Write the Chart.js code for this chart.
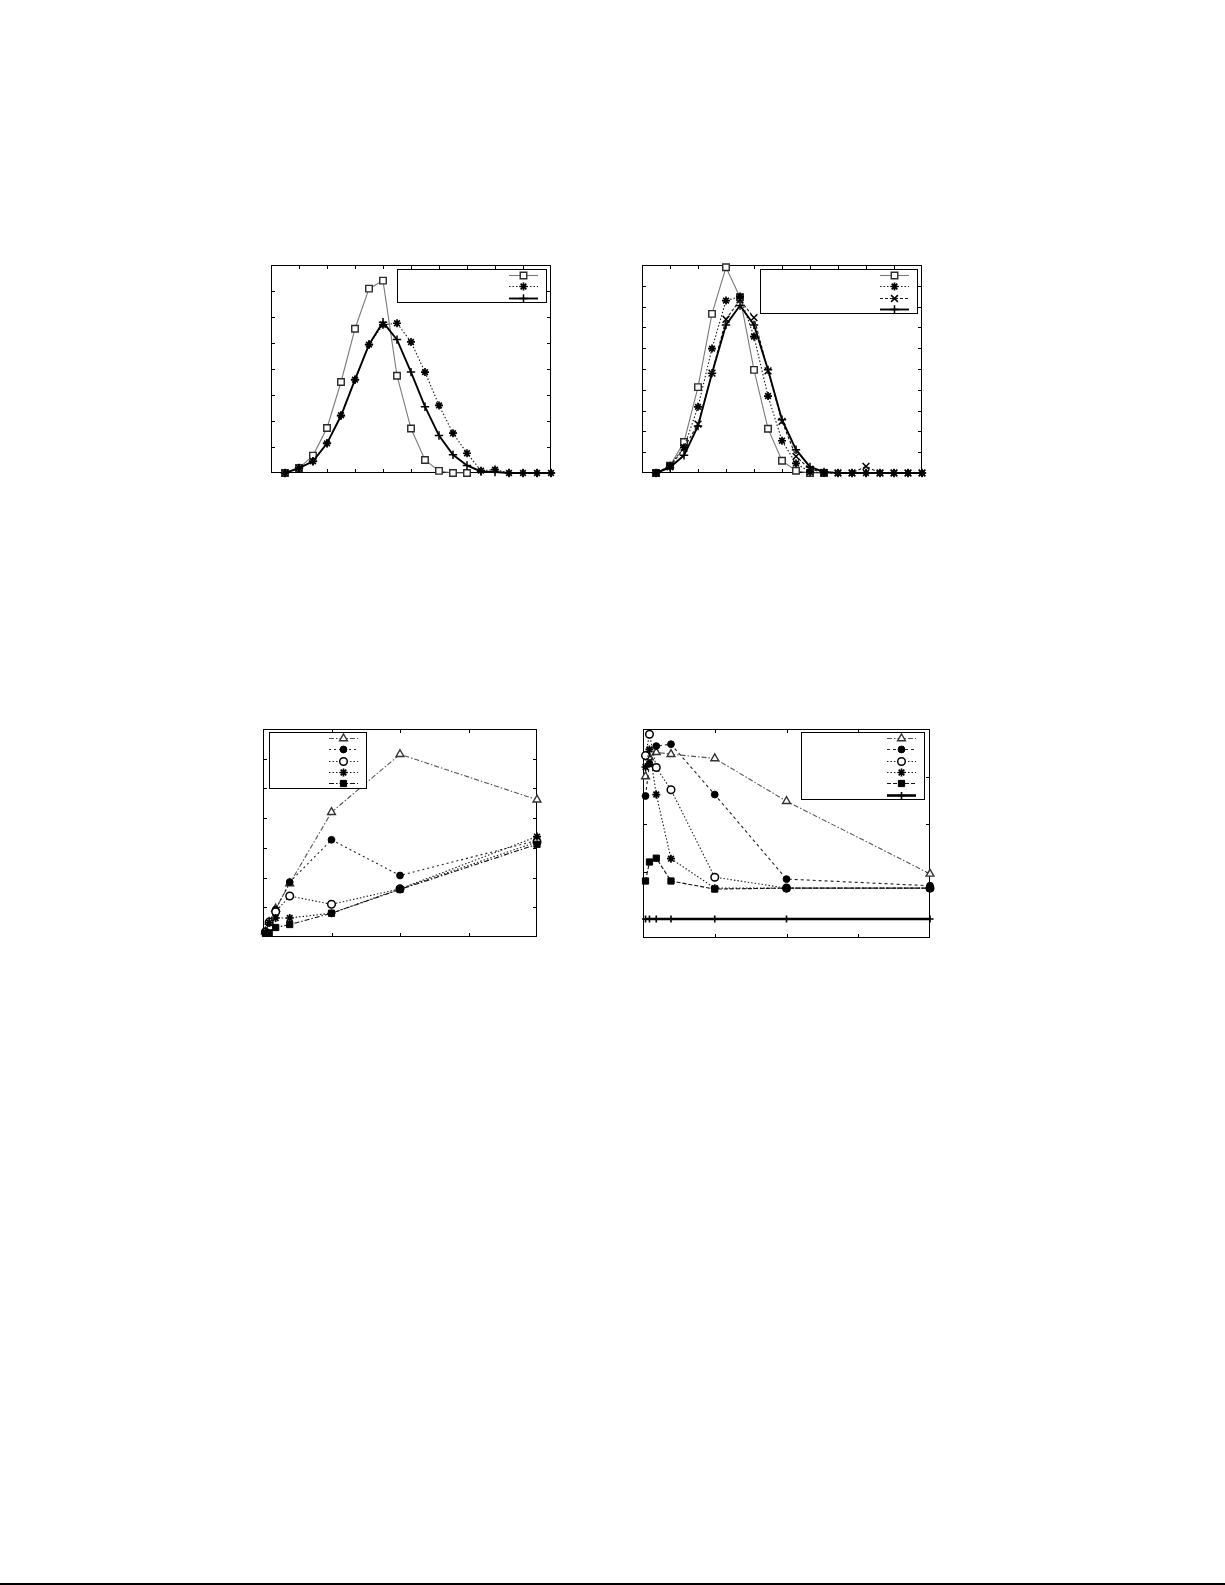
<!DOCTYPE html>
<html>
<head>
<meta charset="utf-8">
<script src="https://cdn.jsdelivr.net/npm/chart.js@4.4.1/dist/chart.umd.min.js"></script>
<style>
  body { margin: 0; background: #fff; width: 1225px; height: 1585px; position: relative; overflow: hidden; }
  canvas { position: absolute; }
  #rule { position: absolute; left: 0; top: 1583px; width: 1225px; height: 2px; background: #000; }
</style>
</head>
<body>
<canvas id="c1" width="304" height="232" style="left:259px;top:253px"></canvas>
<canvas id="c2" width="304" height="232" style="left:630px;top:253px"></canvas>
<canvas id="c3" width="298" height="232" style="left:251px;top:717px"></canvas>
<canvas id="c4" width="311" height="233" style="left:631px;top:717px"></canvas>
<div id="rule"></div>
<script>
// --- DATE ---
const xs20 = [1, 2, 3, 4, 5, 6, 7, 8, 9, 10, 11, 12, 13, 14, 15, 16, 17, 18, 19, 20];
const xs7 = [0.07, 0.18, 0.37, 0.78, 2, 4, 8];

// grafic 1 (stanga sus)
const sq1 = [0, 0.19, 0.67, 1.73, 3.5, 5.55, 7.09, 7.4, 3.74, 1.71, 0.5, 0.08, 0, 0, null, null, null, null, null, null];
const st1 = [0, 0.19, 0.45, 1.14, 2.22, 3.59, 4.94, 5.7, 5.76, 5.04, 3.88, 2.6, 1.53, 0.76, 0.09, 0.13, 0, 0, 0, 0];
const pl1 = [0, 0.19, 0.45, 1.14, 2.2, 3.59, 4.94, 5.8, 5.13, 3.88, 2.55, 1.44, 0.7, 0.29, 0.06, 0.04, 0, 0, 0, 0];

// grafic 2 (dreapta sus)
const sq2 = [0, 0.35, 1.49, 4.13, 7.65, 9.89, 8.45, 4.96, 2.13, 0.59, 0.11, 0, 0, null, null, null, null, null, null, null];
const st2 = [0, 0.35, 1.23, 3.18, 5.98, 8.29, 8.48, 6.56, 3.7, 1.55, 0.46, 0.05, 0, 0, 0, 0, 0, 0, 0, 0];
const xx2 = [0, 0.3, 1.2, 2.35, 4.8, 7.39, 8.32, 7.47, 4.91, 2.48, 0.8, 0.18, 0.03, 0, 0, 0.32, 0, 0, 0, 0];
const pl2 = [0, 0.27, 0.85, 2.26, 4.8, 7.12, 8.05, 7.12, 4.96, 2.56, 1.12, 0.29, 0.05, 0, 0, 0, 0, 0, 0, 0];

// grafic 3 (stanga jos)
const tri3 = [0.18, 0.5, 0.95, 1.8, 4.2, 6.15, 4.62];
const dot3 = [0.18, 0.5, 0.92, 1.85, 3.27, 2.07, 3.25];
const ring3 = [0.17, 0.5, 0.85, 1.38, 1.1, 1.62, 3.2];
const star3 = [0.15, 0.48, 0.64, 0.64, 0.8, 1.62, 3.38];
const sqr3 = [0.12, 0.14, 0.32, 0.42, 0.8, 1.6, 3.12];

// grafic 4 (dreapta jos)
const tri4 = [3.0, 3.4, 3.51, 3.47, 3.38, 2.48, 0.95];
const dot4 = [2.59, 3.27, 3.64, 3.68, 2.62, 0.84, 0.7];
const ring4 = [3.44, 3.89, 3.19, 2.72, 0.88, 0.65, 0.65];
const star4 = [3.2, 3.57, 2.62, 1.27, 0.65, 0.65, 0.65];
const sqr4 = [0.8, 1.2, 1.28, 0.8, 0.63, 0.65, 0.65];
const base4 = [0, 0, 0, 0, 0, 0, 0];

// ticks (fara etichete)
const xTicks12 = [2, 4, 6, 8, 10, 12, 14, 16, 18];
const yTicks1 = [1, 2, 3, 4, 5, 6, 7];
const yTicks2 = [1, 2, 3, 4, 5, 6, 7, 8, 9];
const xTicks34 = [2, 4, 6];
const yTicks3 = [1, 2, 3, 4, 5, 6];
const yTicks4 = [0, 1, 2, 3];

// --- STILURI SERII ---
const GRAY_LINE = '#7a7a7a';
const styles = {
  square:  { borderColor: GRAY_LINE, borderWidth: 1.1, borderDash: [], pointStyle: 'rect', pointRadius: 4.6, pointBorderWidth: 1.4, pointBorderColor: '#2a2a2a', pointBackgroundColor: '#fff' },
  starDot: { borderColor: '#1a1a1a', borderWidth: 1.1, borderDash: [1.5, 2], pointStyle: 'star', pointRadius: 4, pointBorderWidth: 1.7, pointBorderColor: '#000', pointBackgroundColor: '#000' },
  xDash:   { borderColor: '#1a1a1a', borderWidth: 1.1, borderDash: [3, 2], pointStyle: 'crossRot', pointRadius: 4.8, pointBorderWidth: 1.5, pointBorderColor: '#000', pointBackgroundColor: '#000' },
  plus:    { borderColor: '#000', borderWidth: 1.9, borderDash: [], pointStyle: 'cross', pointRadius: 4.2, pointBorderWidth: 1.5, pointBorderColor: '#000', pointBackgroundColor: '#000' },
  tri:     { borderColor: '#555', borderWidth: 1.1, borderDash: [5, 2, 1.5, 2], pointStyle: 'triangle', pointRadius: 4.5, pointBorderWidth: 1.4, pointBorderColor: '#333', pointBackgroundColor: '#fff' },
  dotFill: { borderColor: '#222', borderWidth: 1.1, borderDash: [2, 3], pointStyle: 'circle', pointRadius: 3.4, pointBorderWidth: 1, pointBorderColor: '#000', pointBackgroundColor: '#000' },
  dotDash: { borderColor: '#222', borderWidth: 1.1, borderDash: [3, 3], pointStyle: 'circle', pointRadius: 3.4, pointBorderWidth: 1, pointBorderColor: '#000', pointBackgroundColor: '#000' },
  ring:    { borderColor: '#222', borderWidth: 1.1, borderDash: [1.5, 2], pointStyle: 'circle', pointRadius: 3.8, pointBorderWidth: 1.5, pointBorderColor: '#000', pointBackgroundColor: '#fff' },
  sqFill:  { borderColor: '#111', borderWidth: 1.1, borderDash: [5, 2, 1.5, 2], pointStyle: 'rect', pointRadius: 4.4, pointBorderWidth: 1, pointBorderColor: '#000', pointBackgroundColor: '#000' },
  sqDash:  { borderColor: '#111', borderWidth: 1.1, borderDash: [4, 2], pointStyle: 'rect', pointRadius: 4.4, pointBorderWidth: 1, pointBorderColor: '#000', pointBackgroundColor: '#000' },
  base:    { borderColor: '#000', borderWidth: 2.6, borderDash: [], pointStyle: 'cross', pointRadius: 3.6, pointBorderWidth: 1.6, pointBorderColor: '#000', pointBackgroundColor: '#000' }
};

function series(xs, ys, style, idx) {
  return Object.assign({
    data: xs.map((x, i) => ({ x: x, y: ys[i] })),
    fill: false, tension: 0, clip: false, spanGaps: false,
    pointHoverRadius: style.pointRadius, order: -idx
  }, style);
}

// --- PLUGIN: cadru, gradatii interioare si legenda fara text ---
const frameBox = {
  id: 'frameBox',
  beforeDatasetsDraw(chart, args, opts) {
    const { ctx, chartArea: a, scales } = chart;
    ctx.save();
    ctx.strokeStyle = '#000';
    ctx.lineWidth = 1;
    ctx.setLineDash([]);
    ctx.strokeRect(a.left + 0.5, a.top + 0.5, a.right - a.left - 1, a.bottom - a.top - 1);
    ctx.beginPath();
    (opts.xTicks || []).forEach(v => {
      const px = Math.round(scales.x.getPixelForValue(v)) + 0.5;
      ctx.moveTo(px, a.top); ctx.lineTo(px, a.top + 4);
      ctx.moveTo(px, a.bottom); ctx.lineTo(px, a.bottom - 4);
    });
    (opts.yTicks || []).forEach(v => {
      const py = Math.round(scales.y.getPixelForValue(v)) + 0.5;
      ctx.moveTo(a.left, py); ctx.lineTo(a.left + 4, py);
      ctx.moveTo(a.right, py); ctx.lineTo(a.right - 4, py);
    });
    ctx.stroke();
    ctx.restore();
  },
  afterDatasetsDraw(chart, args, opts) {
    const b = opts.box;
    if (!b) return;
    const ctx = chart.ctx;
    ctx.save();
    ctx.fillStyle = '#fff';
    ctx.fillRect(b.left, b.top, b.width, b.height);
    ctx.strokeStyle = '#000';
    ctx.lineWidth = 1;
    ctx.setLineDash([]);
    ctx.strokeRect(b.left + 0.5, b.top + 0.5, b.width, b.height);
    chart.data.datasets.forEach((d, i) => {
      const y = Math.round(b.top + 6 + i * 11.3) + 0.5;
      const x1 = b.left + b.width - 37, x2 = b.left + b.width - 8;
      ctx.strokeStyle = d.borderColor;
      ctx.lineWidth = d.borderWidth;
      ctx.setLineDash(d.borderDash || []);
      ctx.beginPath(); ctx.moveTo(x1, y); ctx.lineTo(x2, y); ctx.stroke();
      ctx.setLineDash([]);
      ctx.fillStyle = d.pointBackgroundColor;
      ctx.strokeStyle = d.pointBorderColor;
      ctx.lineWidth = d.pointBorderWidth;
      Chart.helpers.drawPoint(ctx, { pointStyle: d.pointStyle, radius: d.pointRadius, borderWidth: d.pointBorderWidth, rotation: 0 }, (x1 + x2) / 2, y);
    });
    ctx.restore();
  }
};

function makeChart(id, datasets, xMin, xMax, yMin, yMax, pad, frameOpts) {
  return new Chart(document.getElementById(id), {
    type: 'line',
    data: { datasets: datasets },
    options: {
      responsive: false, animation: false, events: [],
      layout: { padding: pad },
      scales: {
        x: { type: 'linear', min: xMin, max: xMax, display: false },
        y: { type: 'linear', min: yMin, max: yMax, display: false }
      },
      plugins: { legend: { display: false }, tooltip: { enabled: false }, frameBox: frameOpts }
    },
    plugins: [frameBox]
  });
}

makeChart('c1', [
  series(xs20, sq1, styles.square, 0),
  series(xs20, st1, styles.starDot, 1),
  series(xs20, pl1, styles.plus, 2)
], 0, 20, 0, 8, 12, { xTicks: xTicks12, yTicks: yTicks1, box: { left: 138, top: 16, width: 149, height: 33 } });

makeChart('c2', [
  series(xs20, sq2, styles.square, 0),
  series(xs20, st2, styles.starDot, 1),
  series(xs20, xx2, styles.xDash, 2),
  series(xs20, pl2, styles.plus, 3)
], 0, 20, 0, 10, 12, { xTicks: xTicks12, yTicks: yTicks2, box: { left: 130, top: 16, width: 157, height: 44 } });

makeChart('c3', [
  series(xs7, tri3, styles.tri, 0),
  series(xs7, dot3, styles.dotFill, 1),
  series(xs7, ring3, styles.ring, 2),
  series(xs7, star3, styles.starDot, 3),
  series(xs7, sqr3, styles.sqFill, 4)
], 0, 8, 0, 7, 12, { xTicks: xTicks34, yTicks: yTicks3, box: { left: 18, top: 15, width: 97, height: 56 } });

makeChart('c4', [
  series(xs7, tri4, styles.tri, 0),
  series(xs7, dot4, styles.dotDash, 1),
  series(xs7, ring4, styles.ring, 2),
  series(xs7, star4, styles.starDot, 3),
  series(xs7, sqr4, styles.sqDash, 4),
  series(xs7, base4, styles.base, 5)
], 0, 8, -0.4, 4, 12, { xTicks: xTicks34, yTicks: yTicks4, box: { left: 170, top: 15, width: 123, height: 67 } });
</script>
</body>
</html>
